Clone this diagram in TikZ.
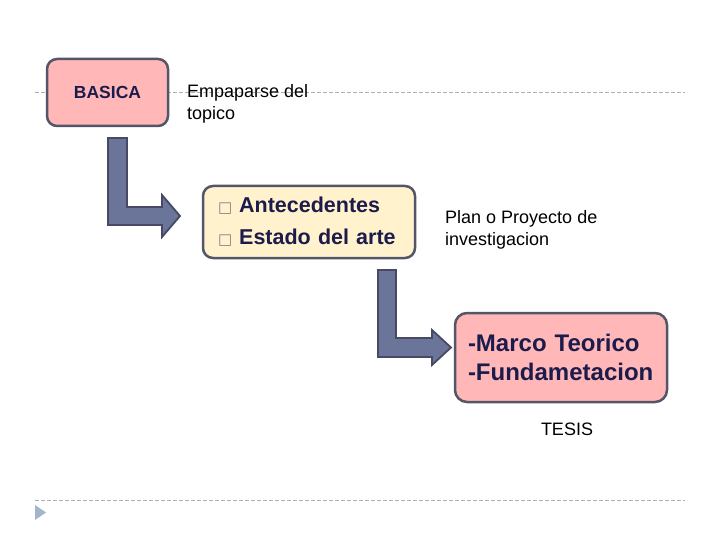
\documentclass[tikz,border=0pt]{standalone}
\usepackage{fontspec}
\setmainfont{Liberation Sans}
\newfontfamily\symfont{DejaVu Sans}
\usetikzlibrary{positioning}

\definecolor{boxpink}{HTML}{FFB7B7}
\definecolor{boxcream}{HTML}{FFF2CC}
\definecolor{boxline}{HTML}{55556A}
\definecolor{arrowfill}{HTML}{6B7499}
\definecolor{arrowline}{HTML}{474A62}
\definecolor{navytext}{HTML}{1C1C4C}
\definecolor{ruleline}{HTML}{A8B0B8}
\definecolor{markblue}{HTML}{A3B5CC}

\newcommand{\bsq}{{\symfont\fontsize{15}{15}\selectfont\color{gray}□}\hspace{7pt}}

\tikzset{
	stagebox/.style={draw=boxline, line width=2.5pt, rounded corners=10pt, inner sep=0pt, text=navytext},
	bendarrow/.style={draw=arrowline, fill=arrowfill, line width=1.8pt, line join=miter},
	plain/.style={align=left, inner sep=0pt, font=\fontsize{18}{22}\selectfont},
}

\begin{document}
\begin{tikzpicture}[x=1pt,y=-1pt]
				\useasboundingbox (0,0) rectangle (720,540);
				% Rules
				\draw[ruleline, thin, dash pattern=on 4pt off 2pt] (35,92) -- (685,92);
				\draw[ruleline, thin, dash pattern=on 4pt off 2pt] (35,500) -- (685,500);
				\fill[markblue] (35,505) -- (46,512.5) -- (35,520) -- cycle;
				% Stages
				\node[stagebox, fill=boxpink, minimum width=121pt, minimum height=67pt,
					font=\bfseries\fontsize{17.5}{17.5}\selectfont] (basica) at (107.5,92.5) {BASICA};
				\node[stagebox, fill=boxcream, minimum width=212pt, minimum height=72pt,
					text width=182pt, align=left,
					font=\bfseries\fontsize{21.5}{32}\selectfont] (estado) at (309,222)
					{\bsq Antecedentes\\\bsq Estado del arte};
				\node[stagebox, fill=boxpink, rounded corners=12pt, minimum width=212pt, minimum height=89pt,
					text width=186pt, align=left,
					font=\bfseries\fontsize{24}{29}\selectfont] (marco) at (561,357.5)
					{-Marco Teorico\\-Fundametacion};
				% Labels
				\node[plain, anchor=west] (empaparse) at (187,104) {Empaparse del\\topico};
				\node[plain, anchor=west] (plan) at (445,230) {Plan o Proyecto de\\investigacion};
				\node[plain] (tesis) at (567,429) {TESIS};
				% Bent arrows
				\draw[bendarrow] (108,138) -- (127,138) -- (127,207) -- (162,207) -- (162,195)
					-- (180,216) -- (162,237) -- (162,225) -- (108,225) -- cycle;
				\draw[bendarrow] (378,270) -- (396,270) -- (396,338) -- (432,338) -- (432,330)
					-- (451,347.5) -- (432,365) -- (432,357) -- (378,357) -- cycle;
\end{tikzpicture}
\end{document}
